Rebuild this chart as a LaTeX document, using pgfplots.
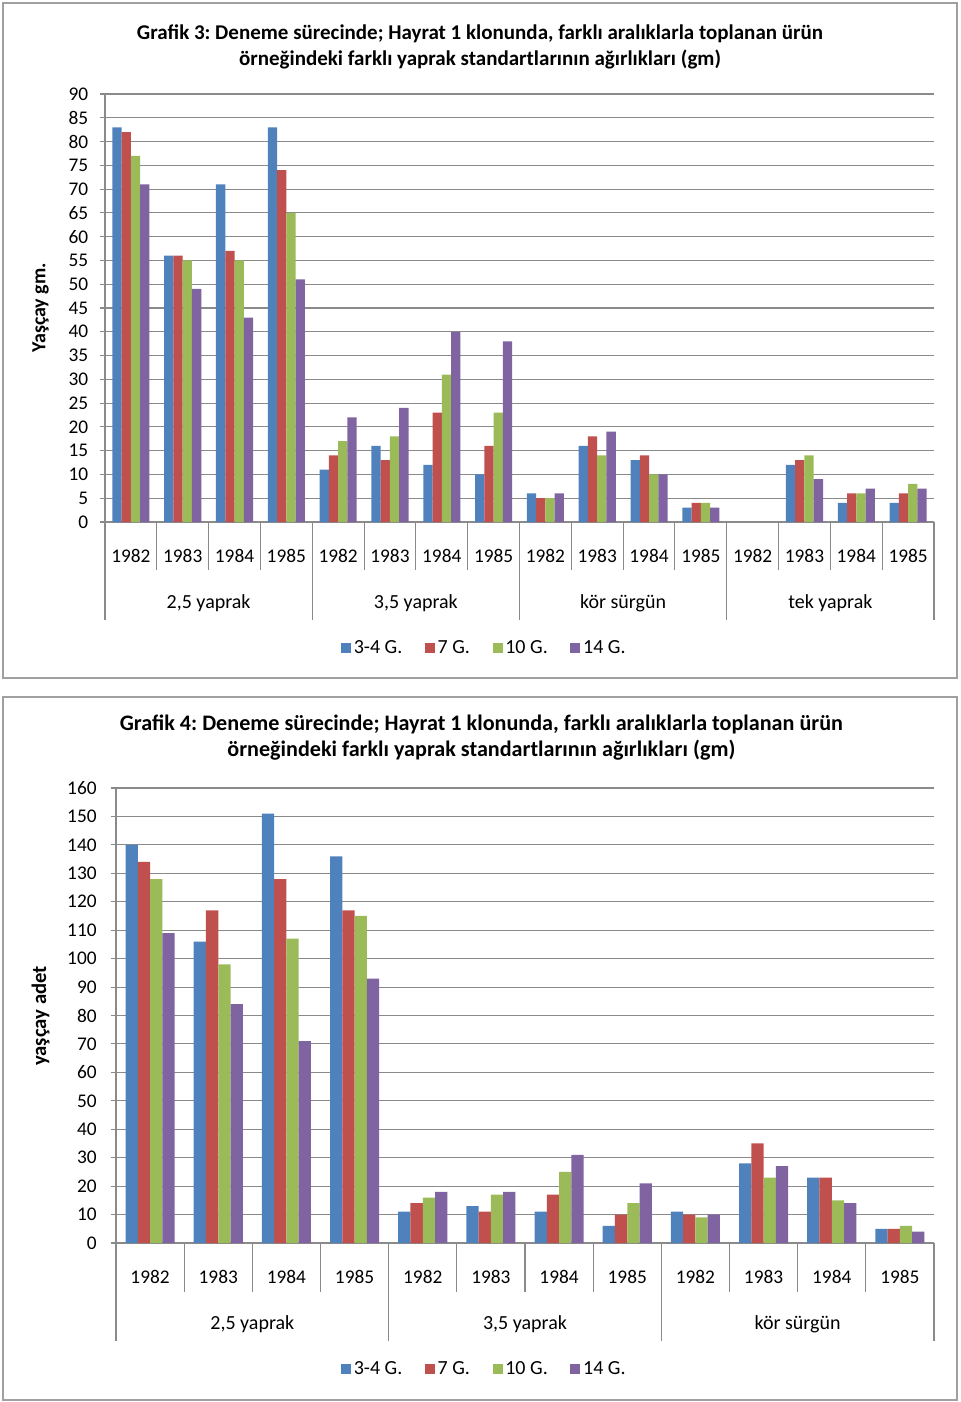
\documentclass[border=0pt]{standalone}
\usepackage{pgfplots}
\pgfplotsset{compat=1.18}
\usepackage{pgfplotstable}
\usepackage{fontspec}
\setmainfont{Carlito}
\frenchspacing
\definecolor{cA}{HTML}{4F81BD}
\definecolor{cB}{HTML}{C0504D}
\definecolor{cC}{HTML}{9BBB59}
\definecolor{cD}{HTML}{8064A2}
\definecolor{gridc}{HTML}{8A8A8A}
\definecolor{framec}{HTML}{A0A0A0}
\newcommand\fs{\fontsize{14.5}{19.5}\selectfont}
\newcommand\fl{\fontsize{15}{19.5}\selectfont}

\pgfplotstableread{
x a b c d
0 83 82 77 71
1 56 56 55 49
2 71 57 55 43
3 83 74 65 51
4 11 14 17 22
5 16 13 18 24
6 12 23 31 40
7 10 16 23 38
8 6 5 5 6
9 16 18 14 19
10 13 14 10 10
11 3 4 4 3
12 nan nan nan nan
13 12 13 14 9
14 4 6 6 7
15 4 6 8 7
}\dataA

\pgfplotstableread{
x a b c d
0 140 134 128 109
1 106 117 98 84
2 151 128 107 71
3 136 117 115 93
4 11 14 16 18
5 13 11 17 18
6 11 17 25 31
7 6 10 14 21
8 11 10 9 10
9 28 35 23 27
10 23 23 15 14
11 5 5 6 4
}\dataB

\pgfplotsset{mystyle/.style={
  scale only axis, anchor=south west,
  axis x line*=bottom, axis y line*=left,
  axis line style={gridc, line width=0.8pt, -},
  ymajorgrids, grid style={gridc, line width=0.8pt},
  ybar=0pt,
  xtick style={draw=none},
  ytick style={gridc, line width=0.8pt},
  tick align=outside, major tick length=4pt,
  ymin=0, clip=false,
  ticklabel style={font=\fs},
  xticklabel style={yshift=-13pt},
  /pgf/number format/assume math mode=true,
  legend columns=4,
  legend style={draw=none, fill=none, font=\fl, anchor=center,
    /tikz/every even column/.append style={column sep=15pt}},
  legend cell align=left,
  legend image code/.code={\fill[##1,draw=none] (0pt,-3.75pt) rectangle (7.5pt,3.75pt);},
}}

\begin{document}
\begin{tikzpicture}
\path[use as bounding box] (0,0) rectangle (720pt,-1051.5pt);
\draw[framec, line width=1.2pt] (2.25pt,-2.25pt) rectangle (717.75pt,-508.5pt);
\draw[framec, line width=1.2pt] (2.25pt,-522.75pt) rectangle (717.75pt,-1050pt);

\node[font=\bfseries\fontsize{15.75}{19.5}\selectfont, align=center] at (360pt,-35pt)
 {Grafik 3: Deneme sürecinde; Hayrat 1 klonunda, farklı aralıklarla toplanan ürün\\örneğindeki farklı yaprak standartlarının ağırlıkları (gm)};
\node[font=\bfseries\fontsize{15}{18}\selectfont, rotate=90] at (30.5pt,-231pt) {Yaşçay gm.};

\begin{axis}[mystyle,
  at={(78.75pt,-391.5pt)}, width=621.75pt, height=321pt,
  bar width=6.95pt,
  xmin=-0.5, xmax=15.5, ymax=90,
  xtick={0,...,15},
  xticklabels={1982,1983,1984,1985,1982,1983,1984,1985,1982,1983,1984,1985,1982,1983,1984,1985},
  ytick={0,5,...,90},
  yticklabel style={xshift=-5pt},
  legend style={at={(0.458,-0.294)}},
]
\addplot[fill=cA, draw=none] table[x=x,y=a]{\dataA};
\addplot[fill=cB, draw=none] table[x=x,y=b]{\dataA};
\addplot[fill=cC, draw=none] table[x=x,y=c]{\dataA};
\addplot[fill=cD, draw=none] table[x=x,y=d]{\dataA};
\legend{3-4 G.,7 G.,10 G.,14 G.}
\pgfplotsinvokeforeach{0.5,1.5,2.5,4.5,5.5,6.5,8.5,9.5,10.5,12.5,13.5,14.5}{
  \draw[gridc, line width=0.8pt] (axis cs:#1,0) -- ++(0pt,-36pt);}
\pgfplotsinvokeforeach{-0.5,3.5,7.5,11.5,15.5}{
  \draw[gridc, line width=0.8pt] (axis cs:#1,0) -- ++(0pt,-73.5pt);}
\node[font=\fl, yshift=-60.75pt] at (axis cs:1.5,0) {2,5 yaprak};
\node[font=\fl, yshift=-60.75pt] at (axis cs:5.5,0) {3,5 yaprak};
\node[font=\fl, yshift=-60.75pt] at (axis cs:9.5,0) {kör sürgün};
\node[font=\fl, yshift=-60.75pt] at (axis cs:13.5,0) {tek yaprak};
\end{axis}

\node[font=\bfseries\fontsize{16.6}{19.5}\selectfont, align=center] at (361pt,-553.5pt)
 {Grafik 4: Deneme sürecinde; Hayrat 1 klonunda, farklı aralıklarla toplanan ürün\\örneğindeki farklı yaprak standartlarının ağırlıkları (gm)};
\node[font=\bfseries\fontsize{15.5}{18}\selectfont, rotate=90] at (30.5pt,-762pt) {yaşçay adet};

\begin{axis}[mystyle,
  at={(87pt,-932.25pt)}, width=613.5pt, height=341.25pt,
  bar width=9.2pt,
  xmin=-0.5, xmax=11.5, ymax=160,
  xtick={0,...,11},
  xticklabels={1982,1983,1984,1985,1982,1983,1984,1985,1982,1983,1984,1985},
  ytick={0,10,...,160},
  yticklabel style={xshift=-7pt},
  legend style={at={(0.4507,-0.277)}},
]
\addplot[fill=cA, draw=none] table[x=x,y=a]{\dataB};
\addplot[fill=cB, draw=none] table[x=x,y=b]{\dataB};
\addplot[fill=cC, draw=none] table[x=x,y=c]{\dataB};
\addplot[fill=cD, draw=none] table[x=x,y=d]{\dataB};
\legend{3-4 G.,7 G.,10 G.,14 G.}
\pgfplotsinvokeforeach{0.5,1.5,2.5,4.5,5.5,6.5,8.5,9.5,10.5}{
  \draw[gridc, line width=0.8pt] (axis cs:#1,0) -- ++(0pt,-36.75pt);}
\pgfplotsinvokeforeach{-0.5,3.5,7.5,11.5}{
  \draw[gridc, line width=0.8pt] (axis cs:#1,0) -- ++(0pt,-73.5pt);}
\node[font=\fl, yshift=-60.75pt] at (axis cs:1.5,0) {2,5 yaprak};
\node[font=\fl, yshift=-60.75pt] at (axis cs:5.5,0) {3,5 yaprak};
\node[font=\fl, yshift=-60.75pt] at (axis cs:9.5,0) {kör sürgün};
\end{axis}
\end{tikzpicture}
\end{document}
